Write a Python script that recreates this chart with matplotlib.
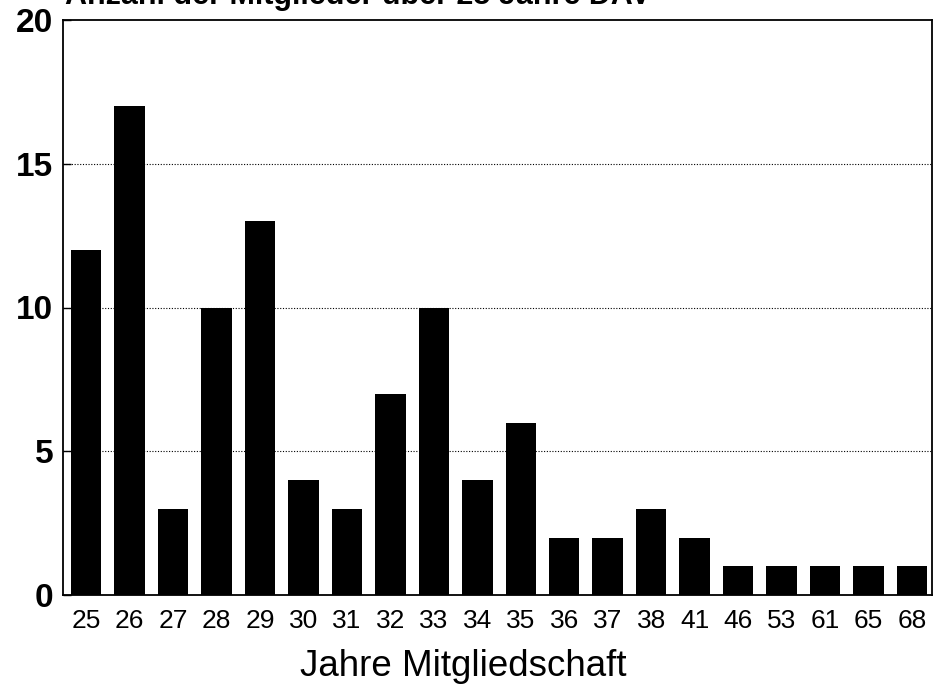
import matplotlib
matplotlib.use("Agg")
import matplotlib.pyplot as plt
import numpy as np

categories = ["25", "26", "27", "28", "29", "30", "31", "32", "33", "34",
              "35", "36", "37", "38", "41", "46", "53", "61", "65", "68"]
counts = [12, 17, 3, 10, 13, 4, 3, 7, 10, 4, 6, 2, 2, 3, 2, 1, 1, 1, 1, 1]
yticks = [0, 5, 10, 15, 20]
title = "Anzahl der Mitglieder über 25 Jahre DAV"
xlabel = "Jahre Mitgliedschaft"

plt.rcParams['font.family'] = ['Liberation Sans', 'DejaVu Sans']

W, H = 933, 687
fig = plt.figure(figsize=(W / 100, H / 100), dpi=100)
l, r, t, b = 63, 932, 20, 595
ax = fig.add_axes([l / W, 1 - b / H, (r - l) / W, (b - t) / H])

x = np.arange(len(categories))
ax.bar(x, counts, width=0.70, color='black', zorder=3)
ax.set_xlim(-0.53, len(categories) - 0.54)
ax.set_ylim(0, 20)
ax.set_yticks(yticks)
ax.set_yticklabels([str(v) for v in yticks], fontsize=24, fontweight='bold')
ax.set_xticks(x)
ax.set_xticklabels(categories, fontsize=19)
ax.tick_params(axis='x', length=0, pad=10)
ax.tick_params(axis='y', direction='in', length=6, width=1, pad=7)
for yv in [5, 10, 15]:
    ax.axhline(yv, color='black', linestyle=(0, (1, 1.5)), linewidth=0.8, zorder=1)
for s in ax.spines.values():
    s.set_linewidth(1.3)
    s.set_color('black')

fig.text(300 / W, 1 - 676 / H, xlabel, fontsize=26.5, ha='left', va='baseline')
fig.text(65 / W, 1 - 4 / H, title, fontsize=22, fontweight='bold', ha='left', va='baseline')

fig.savefig("out.png", dpi=100)
